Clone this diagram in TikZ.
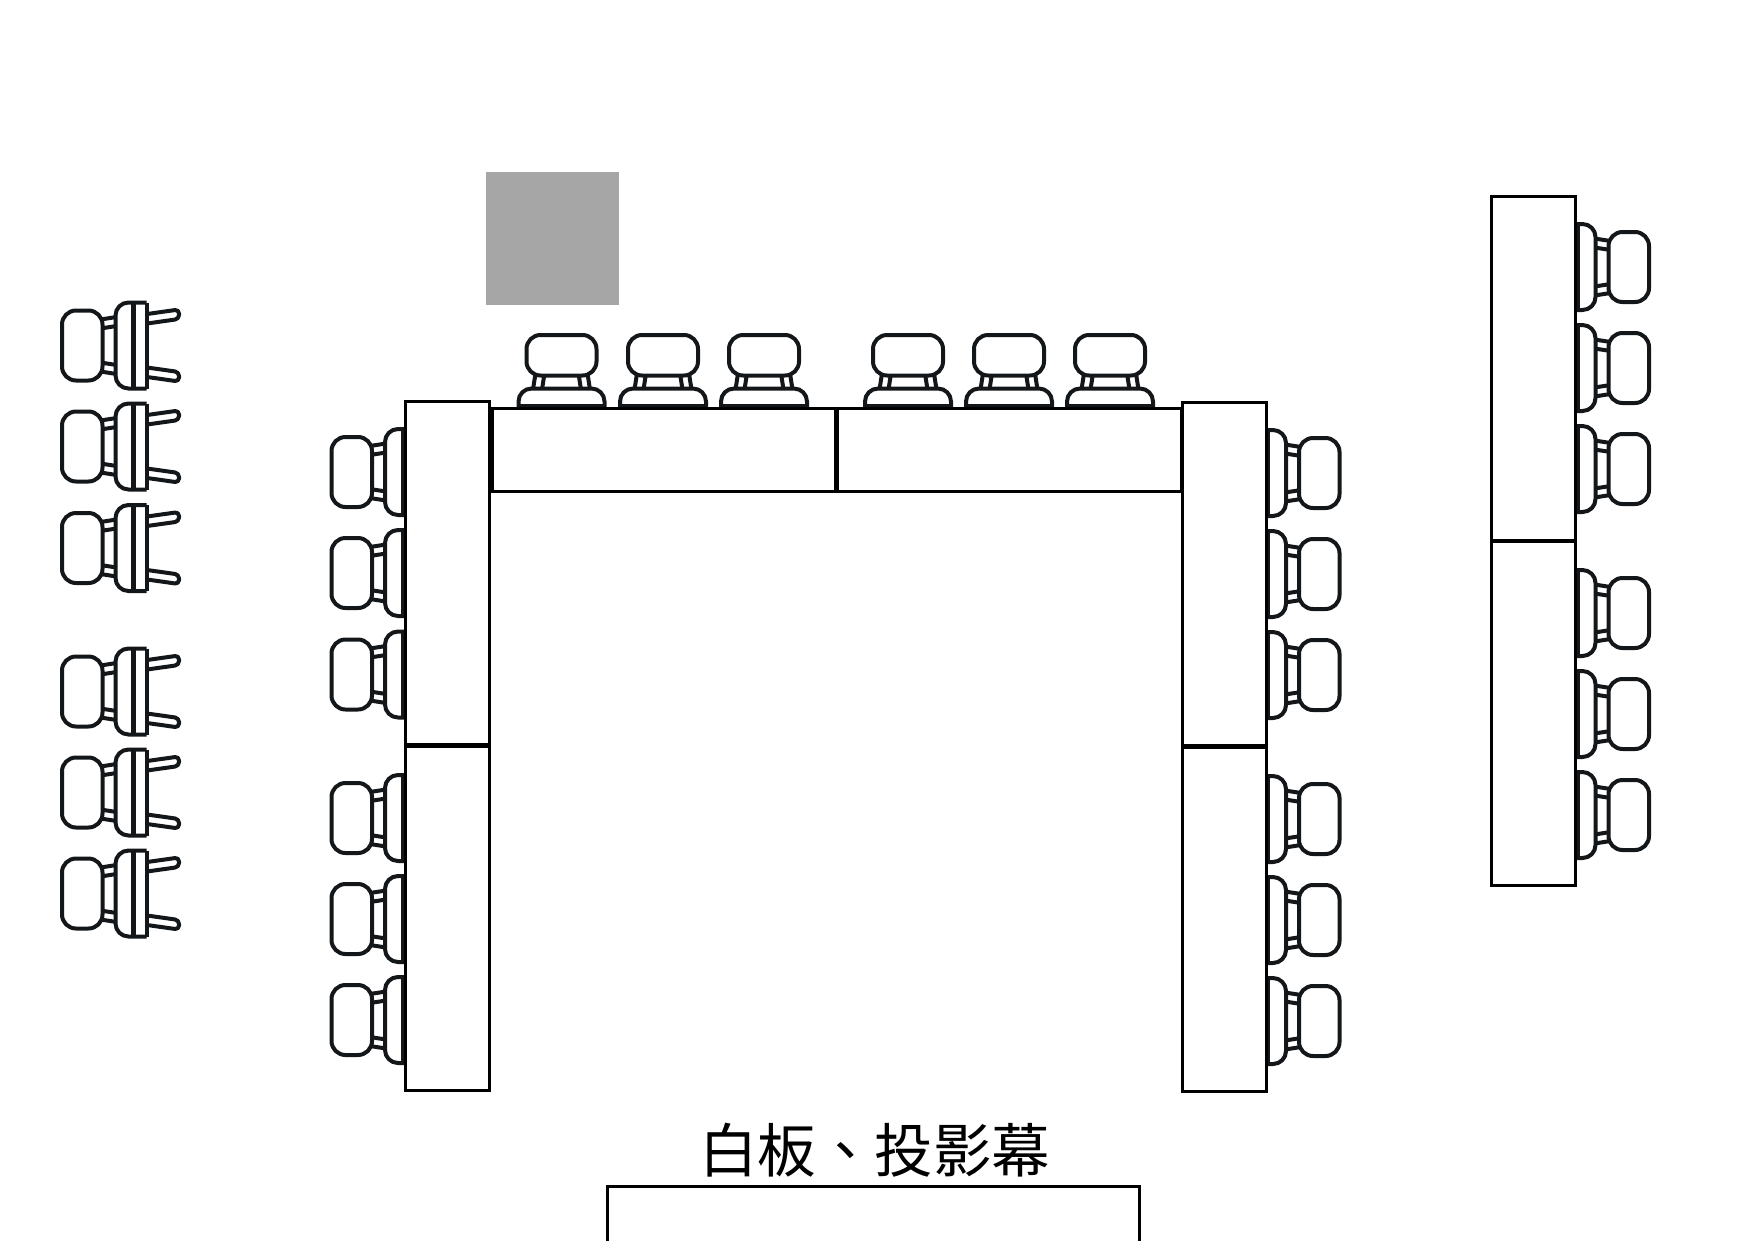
\documentclass[tikz,border=0pt]{standalone}
\usepackage{fontspec}
\newfontfamily\cjkfont{Noto Sans CJK TC}
\definecolor{ink}{HTML}{14171A}
\tikzset{
  x=1pt,y=-1pt,
  tablebox/.style={draw=black,line width=3pt,fill=white},
  joinline/.style={draw=black,line width=4.6pt},
  chairline/.style={draw=ink,line width=4pt,line join=round},
  chair/.pic={
    % legs
    \draw[chairline,fill=white,rounded corners=4pt] (-3,-31)--(32.5,-36)--(32.5,-26.5)--(-3,-21.5)--cycle;
    \draw[chairline,fill=white,rounded corners=4pt] (-3,31)--(32.5,36)--(32.5,26.5)--(-3,21.5)--cycle;
    % struts
    \draw[chairline] (-46,-26)--(-30,-28.5) (-46,-17)--(-30,-19.5)
                     (-46,26)--(-30,28.5) (-46,17)--(-30,19.5);
    % back rest
    \draw[chairline,fill=white,rounded corners=14pt] (-84.5,-35) rectangle (-44,35);
    % seat
    \draw[chairline,fill=white,rounded corners=13pt] (0,-43)--(-31,-43)--(-31,43)--(0,43);
    \draw[chairline,fill=white] (0,-43)--(0,43);
    \draw[chairline,line width=4.6pt] (-13,-43)--(-13,43);
  },
}
\begin{document}
\begin{tikzpicture}
\useasboundingbox (0,0) rectangle (1748,1240);
% grey square
\fill[fill=black!35] (486,171.5) rectangle (619,304.5);
% far left column
\foreach \yy in {345.5,446.5,548,691.5,792.5,893.5} \pic at (146.5,\yy) {chair};
% left of U
\foreach \yy in {472,573,674.5,818,919,1020} \pic at (416,\yy) {chair};
% top of U
\foreach \xx in {561.5,663,764,908,1009,1110} \pic[rotate=-90] at (\xx,419.5) {chair};
% right of U
\foreach \yy in {473,574,675,819,920,1021} \pic[rotate=180] at (1255,\yy) {chair};
% far right column
\foreach \yy in {267,368,469,613,714,815} \pic[rotate=180] at (1564.5,\yy) {chair};
% tables
\draw[tablebox] (405,401) rectangle (489.5,745.5);
\draw[tablebox] (405,745.5) rectangle (489.5,1090.5);
\draw[tablebox] (491.7,408) rectangle (836,491.7);
\draw[tablebox] (836.5,408) rectangle (1181,491.7);
\draw[tablebox] (1182,402.5) rectangle (1266.6,746.5);
\draw[tablebox] (1182,746.5) rectangle (1266.6,1091.6);
\draw[tablebox] (1491.5,196) rectangle (1575.5,541);
\draw[tablebox] (1491.5,541) rectangle (1575.5,885);
% table joints
\draw[joinline] (405,745.5)--(489.5,745.5);
\draw[joinline] (1182,746.5)--(1266.6,746.5);
\draw[joinline] (1491.5,541)--(1575.5,541);
\draw[joinline] (836.2,408)--(836.2,491.7);
\draw[joinline,line width=3.6pt] (491.7,408)--(491.7,491.7);
% screen
\draw[tablebox,fill=none] (607.5,1245)--(607.5,1186)--(1139.5,1186)--(1139.5,1245);
\node[inner sep=0pt] (screenlabel) at (874.5,1150) {\cjkfont\fontsize{58.5}{60}\selectfont 白板、投影幕};
\end{tikzpicture}
\end{document}
